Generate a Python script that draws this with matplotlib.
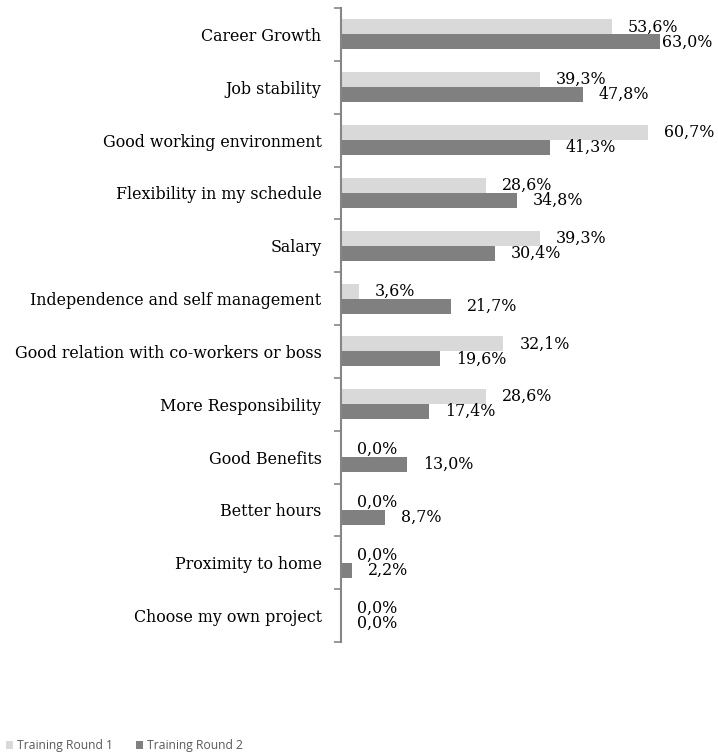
import matplotlib
matplotlib.use("Agg")
import matplotlib.pyplot as plt
from matplotlib.patches import Patch
import numpy as np

categories = ["Career Growth", "Job stability", "Good working environment",
              "Flexibility in my schedule", "Salary", "Independence and self management",
              "Good relation with co-workers or boss", "More Responsibility",
              "Good Benefits", "Better hours", "Proximity to home", "Choose my own project"]
round1 = [53.6, 39.3, 60.7, 28.6, 39.3, 3.6, 32.1, 28.6, 0.0, 0.0, 0.0, 0.0]
round2 = [63.0, 47.8, 41.3, 34.8, 30.4, 21.7, 19.6, 17.4, 13.0, 8.7, 2.2, 0.0]
series_names = ["Training Round 1", "Training Round 2"]

c1 = "#D9D9D9"
c2 = "#808080"
W, H = 718, 756
fig = plt.figure(figsize=(W/100, H/100), dpi=100)
ax = fig.add_axes([341/W, 1-642/H, (700-341)/W, (642-8)/H])

n = len(categories)
y = np.arange(n)
h = 0.285
ax.barh(y - h/2, round1, height=h, color=c1, edgecolor="none")
ax.barh(y + h/2, round2, height=h, color=c2, edgecolor="none")
ax.set_xlim(0, 71)
ax.set_ylim(n - 0.5, -0.5)

serif = ["DejaVu Serif"]
FS = 11.4
def fmt(v):
    return f"{v:.1f}%".replace(".", ",")
for vals, off in ((round1, -h/2), (round2, h/2)):
    for i, v in enumerate(vals):
        dx = 11.5
        if v > 62:
            dx = 1.5
        ax.annotate(fmt(v), (v, i + off), xytext=(dx, 0), textcoords="offset points",
                    ha="left", va="center", fontsize=FS, family=serif, color="#000000",
                    annotation_clip=False)

ax.set_yticks(y)
ax.set_yticklabels(categories, family=serif, fontsize=FS)
ax.tick_params(axis="y", which="major", length=0, pad=14)
ax.set_yticks(np.arange(-0.5, n, 1), minor=True)
ax.tick_params(axis="y", which="minor", length=5, width=1.2, color="#868686", direction="out")
ax.set_xticks([])
for s in ("top", "right", "bottom"):
    ax.spines[s].set_visible(False)
ax.spines["left"].set_color("#868686")
ax.spines["left"].set_linewidth(1.5)

handles = [Patch(facecolor=c1, label=series_names[0]), Patch(facecolor=c2, label=series_names[1])]
fig.legend(handles=handles, loc="lower left", bbox_to_anchor=(0.0, -0.003), ncol=2, frameon=False,
           prop={"family": "Open Sans", "size": 8.7}, labelcolor="#595959",
           handlelength=0.6, handleheight=0.6, handletextpad=0.3, columnspacing=1.9,
           borderaxespad=0.1)

fig.savefig("out.png", dpi=100)
